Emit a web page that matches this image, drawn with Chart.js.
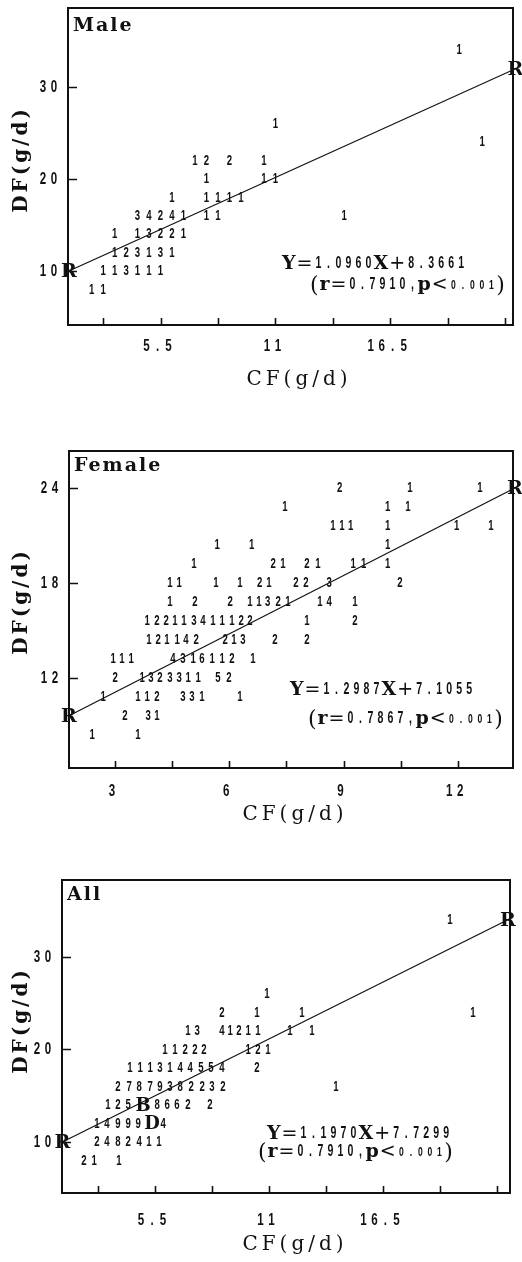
<!DOCTYPE html>
<html>
<head>
<meta charset="utf-8">
<script src="https://cdn.jsdelivr.net/npm/chart.js@4.4.1/dist/chart.umd.min.js"></script>
<style>
    html, body { margin: 0; padding: 0; background: #fff; }
    body { width: 522px; height: 1262px; position: relative; overflow: hidden; }
    canvas { position: absolute; left: 0; }
</style>
</head>
<body>
<canvas id="maleChart" width="522" height="410" style="top:0px"></canvas>
<canvas id="femaleChart" width="522" height="420" style="top:410px"></canvas>
<canvas id="allChart" width="522" height="432" style="top:830px"></canvas>
<script>
// ---- Male: printer-plot cells (CF, DF, count) ----
const maleX = [
    19.8,                                   // 34
    11,                                     // 26
    20.9,                                   // 24
    7.15, 7.7, 8.8, 10.45,                  // 22
    7.7, 10.45, 11,                         // 20
    6.05, 7.7, 8.25, 8.8, 9.35,             // 18
    4.4, 4.95, 5.5, 6.05, 6.6, 7.7, 8.25, 14.3, // 16
    3.3, 4.4, 4.95, 5.5, 6.05, 6.6,         // 14
    3.3, 3.85, 4.4, 4.95, 5.5, 6.05,        // 12
    2.75, 3.3, 3.85, 4.4, 4.95, 5.5,        // 10
    2.2, 2.75                               // 8
];
const maleY = [
    34, 26, 24,
    22, 22, 22, 22,
    20, 20, 20,
    18, 18, 18, 18, 18,
    16, 16, 16, 16, 16, 16, 16, 16,
    14, 14, 14, 14, 14, 14,
    12, 12, 12, 12, 12, 12,
    10, 10, 10, 10, 10, 10,
    8, 8
];
const maleN = [
    '1', '1', '1',
    '1', '2', '2', '1',
    '1', '1', '1',
    '1', '1', '1', '1', '1',
    '3', '4', '2', '4', '1', '1', '1', '1',
    '1', '1', '3', '2', '2', '1',
    '1', '2', '3', '1', '3', '1',
    '1', '1', '3', '1', '1', '1',
    '1', '1'
];
const maleRegX = [1.11, 22.5];
const maleRegY = [10, 32];

// ---- Female ----
const femaleX = [
    8.90, 10.74, 12.58,
    7.46, 10.16, 10.69,
    8.72, 8.96, 9.19, 10.16, 11.97, 12.87,
    5.68, 6.59, 10.16,
    5.07, 7.15, 7.41, 8.04, 8.33, 9.25, 9.53, 10.16,
    4.44, 4.68, 5.65, 6.28, 6.80, 7.04, 7.75, 8.01, 8.62, 10.48,
    4.44, 5.10, 6.02, 6.54, 6.78, 7.01, 7.28, 7.54, 8.38, 8.62, 9.30,
    3.84, 4.10, 4.34, 4.57, 4.81, 5.07, 5.31, 5.57, 5.81, 6.07, 6.31, 6.54, 8.04, 9.30,
    3.89, 4.13, 4.36, 4.63, 4.86, 5.13, 5.89, 6.12, 6.36, 7.20, 8.04,
    2.95, 3.18, 3.42, 4.52, 4.78, 5.05, 5.28, 5.55, 5.81, 6.07, 6.62,
    3.00, 3.71, 3.94, 4.18, 4.44, 4.68, 4.92, 5.18, 5.70, 5.99,
    2.69, 3.60, 3.84, 4.10, 4.78, 5.02, 5.28, 6.28,
    3.26, 3.87, 4.10,
    2.40, 3.60
];
const femaleY = [
    24, 24, 24,
    22.8, 22.8, 22.8,
    21.6, 21.6, 21.6, 21.6, 21.6, 21.6,
    20.4, 20.4, 20.4,
    19.2, 19.2, 19.2, 19.2, 19.2, 19.2, 19.2, 19.2,
    18, 18, 18, 18, 18, 18, 18, 18, 18, 18,
    16.8, 16.8, 16.8, 16.8, 16.8, 16.8, 16.8, 16.8, 16.8, 16.8, 16.8,
    15.6, 15.6, 15.6, 15.6, 15.6, 15.6, 15.6, 15.6, 15.6, 15.6, 15.6, 15.6, 15.6, 15.6,
    14.4, 14.4, 14.4, 14.4, 14.4, 14.4, 14.4, 14.4, 14.4, 14.4, 14.4,
    13.2, 13.2, 13.2, 13.2, 13.2, 13.2, 13.2, 13.2, 13.2, 13.2, 13.2,
    12, 12, 12, 12, 12, 12, 12, 12, 12, 12,
    10.8, 10.8, 10.8, 10.8, 10.8, 10.8, 10.8, 10.8,
    9.6, 9.6, 9.6,
    8.4, 8.4
];
const femaleN = [
    '2', '1', '1',
    '1', '1', '1',
    '1', '1', '1', '1', '1', '1',
    '1', '1', '1',
    '1', '2', '1', '2', '1', '1', '1', '1',
    '1', '1', '1', '1', '2', '1', '2', '2', '3', '2',
    '1', '2', '2', '1', '1', '3', '2', '1', '1', '4', '1',
    '1', '2', '2', '1', '1', '3', '4', '1', '1', '1', '2', '2', '1', '2',
    '1', '2', '1', '1', '4', '2', '2', '1', '3', '2', '2',
    '1', '1', '1', '4', '3', '1', '6', '1', '1', '2', '1',
    '2', '1', '3', '2', '3', '3', '1', '1', '5', '2',
    '1', '1', '1', '2', '3', '3', '1', '1',
    '2', '3', '1',
    '1', '1'
];
const femaleRegX = [1.79, 13.5];
const femaleRegY = [9.6, 24];

// ---- All ----
const allX = [
    19.73,
    10.90,
    8.73, 10.42, 12.59, 20.84,
    7.09, 7.53, 8.73, 9.12, 9.55, 9.99, 10.47, 12.01, 13.07,
    5.98, 6.46, 6.95, 7.43, 7.86, 9.99, 10.47, 10.95,
    4.29, 4.78, 5.26, 5.74, 6.22, 6.71, 7.19, 7.72, 8.20, 8.73, 10.42,
    3.71, 4.25, 4.73, 5.26, 5.74, 6.22, 6.71, 7.24, 7.77, 8.25, 8.78, 14.23,
    3.23, 3.71, 4.20, 4.92, 5.60, 6.08, 6.56, 7.09, 8.15,
    2.70, 3.18, 3.71, 4.20, 4.68, 5.35, 5.89,
    2.70, 3.18, 3.71, 4.20, 4.73, 5.21, 5.69,
    2.07, 2.56, 3.76
];
const allY = [
    34,
    26,
    24, 24, 24, 24,
    22, 22, 22, 22, 22, 22, 22, 22, 22,
    20, 20, 20, 20, 20, 20, 20, 20,
    18, 18, 18, 18, 18, 18, 18, 18, 18, 18, 18,
    16, 16, 16, 16, 16, 16, 16, 16, 16, 16, 16, 16,
    14, 14, 14, 14, 14, 14, 14, 14, 14,
    12, 12, 12, 12, 12, 12, 12,
    10, 10, 10, 10, 10, 10, 10,
    8, 8, 8
];
const allN = [
    '1',
    '1',
    '2', '1', '1', '1',
    '1', '3', '4', '1', '2', '1', '1', '1', '1',
    '1', '1', '2', '2', '2', '1', '2', '1',
    '1', '1', '1', '3', '1', '4', '4', '5', '5', '4', '2',
    '2', '7', '8', '7', '9', '3', '8', '2', '2', '3', '2', '1',
    '1', '2', '5', 'B', '8', '6', '6', '2', '2',
    '1', '4', '9', '9', '9', 'D', '4',
    '2', '4', '8', '2', '4', '1', '1',
    '2', '1', '1'
];
const allRegX = [1.03, 22.53];
const allRegY = [10, 34];

// ---- axes ----
const wideXTicks = [2.75, 5.5, 8.25, 11, 13.75, 16.5, 19.25, 22];
const wideXLabels = ['', '5.5', '', '11', '', '16.5', '', ''];
const femaleXTicks = [3, 4.5, 6, 7.5, 9, 10.5, 12];
const femaleXLabels = ['3', '', '6', '', '9', '', '12'];
const wideYTicks = [10, 20, 30];
const femaleYTicks = [12, 18, 24];

const NUM_FONT = '"Liberation Sans", "DejaVu Sans", sans-serif';
const SERIF = '"DejaVu Serif", "Liberation Serif", serif';
const INK = '#111';

// narrow line-printer style characters
function narrow(ctx, s, x, y, size, sx, pitch) {
    ctx.font = 'bold ' + size + 'px ' + NUM_FONT;
    ctx.letterSpacing = '0px';
    ctx.textAlign = 'center';
    ctx.textBaseline = 'middle';
    for (let i = 0; i < s.length; i++) {
        ctx.save();
        ctx.translate(x + i * pitch, y);
        ctx.scale(sx, 1);
        ctx.fillText(s[i], 0, 0);
        ctx.restore();
    }
}

function spaced(ctx, text, x, y, font, sp, align, rot) {
    ctx.save();
    ctx.translate(x, y);
    if (rot) ctx.rotate(rot);
    ctx.font = font;
    ctx.letterSpacing = sp + 'px';
    ctx.textAlign = align;
    ctx.textBaseline = 'middle';
    ctx.fillText(text, align === 'center' ? sp / 2 : 0, 0);
    ctx.restore();
}

// equation: pieces of serif text and narrow digits
function run(ctx, segs, x, y) {
    for (const [t, k] of segs) {
        if (k === 'N' || k === 'n') {
            const p = k === 'N' ? 10 : 9.5;
            narrow(ctx, t, x + p / 2, y, k === 'N' ? 16 : 13, 0.66, p);
            x += t.length * p;
        } else {
            ctx.font = k === 'B' ? 'bold 19px ' + SERIF : k === 'P' ? '22px ' + SERIF : '19px "DejaVu Sans"';
            ctx.letterSpacing = '0px';
            ctx.textAlign = 'left';
            ctx.textBaseline = 'middle';
            ctx.fillText(t, x, y + (k === 'P' ? 1 : 0));
            x += ctx.measureText(t).width + 1;
        }
    }
}

function printPlot(L) {
    return {
        id: 'printPlot',
        afterDraw(chart) {
            const { ctx, chartArea: a, scales: { x, y } } = chart;
            ctx.save();
            ctx.fillStyle = INK;
            ctx.strokeStyle = INK;

            // frame
            ctx.lineWidth = 2;
            ctx.strokeRect(a.left, a.top, a.right - a.left, a.bottom - a.top);

            // ticks point inward
            ctx.lineWidth = 1.6;
            ctx.beginPath();
            L.xTicks.forEach(v => {
                const px = Math.round(x.getPixelForValue(v)) + 0.5;
                ctx.moveTo(px, a.bottom);
                ctx.lineTo(px, a.bottom - 7);
            });
            L.yTicks.forEach(v => {
                const py = Math.round(y.getPixelForValue(v)) + 0.5;
                ctx.moveTo(a.left, py);
                ctx.lineTo(a.left + 9, py);
            });
            ctx.stroke();

            // tick labels
            L.xTicks.forEach((v, i) => {
                const s = L.xLabels[i];
                if (!s) return;
                const cx = x.getPixelForValue(v) - 3;
                narrow(ctx, s, cx - (s.length - 1) * 11 / 2, a.bottom + L.xLabOff, 17, 0.68, 11);
            });
            L.yTicks.forEach(v => {
                const s = String(v);
                const py = y.getPixelForValue(v);
                narrow(ctx, s, a.left - 14 - (s.length - 1) * 11, py, 17, 0.68, 11);
            });

            // axis titles
            spaced(ctx, 'CF(g/d)', L.xTitle[0], L.xTitle[1], '20px ' + SERIF, 4, 'center', 0);
            spaced(ctx, 'DF(g/d)', L.yTitle[0], L.yTitle[1], 'bold 20px ' + SERIF, 3, 'center', -Math.PI / 2);

            // panel name
            spaced(ctx, L.name, a.left + 5, a.top + L.nameOff, 'bold 19px ' + SERIF, 2, 'left', 0);

            // regression equation
            run(ctx, L.eq1, L.eq1At[0], L.eq1At[1]);
            run(ctx, L.eq2, L.eq2At[0], L.eq2At[1]);

            // counts at each plotted cell
            const meta = chart.getDatasetMeta(0);
            const labels = chart.data.datasets[0].labels;
            meta.data.forEach((el, i) => {
                const c = labels[i];
                if (/[0-9]/.test(c)) {
                    narrow(ctx, c, el.x, el.y, 15, 0.64, 0);
                } else {
                    ctx.font = 'bold 18px ' + SERIF;
                    ctx.textAlign = 'center';
                    ctx.textBaseline = 'middle';
                    ctx.fillText(c, el.x, el.y + 1);
                }
            });

            // regression end markers
            ctx.font = 'bold 19px ' + SERIF;
            ctx.textAlign = 'center';
            ctx.textBaseline = 'middle';
            chart.getDatasetMeta(1).data.forEach(el => ctx.fillText('R', el.x, el.y + 1));
            ctx.restore();
        }
    };
}

function makeChart(id, xs, ys, ns, rx, ry, L) {
    const pts = xs.map((v, i) => ({ x: v, y: ys[i] }));
    const reg = rx.map((v, i) => ({ x: v, y: ry[i] }));
    new Chart(document.getElementById(id), {
        type: 'scatter',
        data: {
            datasets: [
                { data: pts, labels: ns, pointRadius: 0, pointHoverRadius: 0 },
                { data: reg, showLine: true, borderColor: INK, borderWidth: 1.2, pointRadius: 0, clip: false }
            ]
        },
        options: {
            responsive: false,
            animation: false,
            events: [],
            layout: { padding: { top: L.padTop, right: L.padRight, left: 0, bottom: 0 } },
            plugins: { legend: { display: false }, tooltip: { enabled: false } },
            scales: {
                x: {
                    type: 'linear', min: L.xMin, max: L.xMax,
                    grid: { display: false }, border: { display: false }, ticks: { display: false },
                    afterFit: s => { s.height = L.xh; }
                },
                y: {
                    type: 'linear', min: L.yMin, max: L.yMax,
                    grid: { display: false }, border: { display: false }, ticks: { display: false },
                    afterFit: s => { s.width = L.yw; }
                }
            }
        },
        plugins: [printPlot(L)]
    });
}

makeChart('maleChart', maleX, maleY, maleN, maleRegX, maleRegY, {
    xMin: 1.07, xMax: 22.38, yMin: 4.13, yMax: 38.6,
    padTop: 8, padRight: 9, yw: 68, xh: 85,
    xTicks: wideXTicks, xLabels: wideXLabels, yTicks: wideYTicks, xLabOff: 21,
    xTitle: [297, 380], yTitle: [22, 161],
    name: 'Male', nameOff: 18,
    eq1: [['Y', 'B'], ['=', 'O'], ['1.0960', 'N'], ['X', 'B'], ['+', 'O'], ['8.3661', 'N']], eq1At: [282, 264],
    eq2: [['(', 'P'], ['r', 'B'], ['=', 'O'], ['0.7910', 'N'], [',', 'N'], ['p', 'B'], ['<', 'O'], ['0.001', 'n'], [')', 'P']], eq2At: [310, 285]
});

makeChart('femaleChart', femaleX, femaleY, femaleN, femaleRegX, femaleRegY, {
    xMin: 1.79, xMax: 13.45, yMin: 6.3, yMax: 26.34,
    padTop: 41, padRight: 9, yw: 69, xh: 62,
    xTicks: femaleXTicks, xLabels: femaleXLabels, yTicks: femaleYTicks, xLabOff: 23,
    xTitle: [293, 405], yTitle: [22, 193],
    name: 'Female', nameOff: 15,
    eq1: [['Y', 'B'], ['=', 'O'], ['1.2987', 'N'], ['X', 'B'], ['+', 'O'], ['7.1055', 'N']], eq1At: [290, 280],
    eq2: [['(', 'P'], ['r', 'B'], ['=', 'O'], ['0.7867', 'N'], [',', 'N'], ['p', 'B'], ['<', 'O'], ['0.001', 'n'], [')', 'P']], eq2At: [308, 309]
});

makeChart('allChart', allX, allY, allN, allRegX, allRegY, {
    xMin: 1.01, xMax: 22.63, yMin: 4.49, yMax: 38.3,
    padTop: 50, padRight: 12, yw: 62, xh: 69,
    xTicks: wideXTicks, xLabels: wideXLabels, yTicks: wideYTicks, xLabOff: 27,
    xTitle: [293, 415], yTitle: [22, 192],
    name: 'All', nameOff: 15,
    eq1: [['Y', 'B'], ['=', 'O'], ['1.1970', 'N'], ['X', 'B'], ['+', 'O'], ['7.7299', 'N']], eq1At: [267, 304],
    eq2: [['(', 'P'], ['r', 'B'], ['=', 'O'], ['0.7910', 'N'], [',', 'N'], ['p', 'B'], ['<', 'O'], ['0.001', 'n'], [')', 'P']], eq2At: [258, 322]
});
</script>
</body>
</html>
